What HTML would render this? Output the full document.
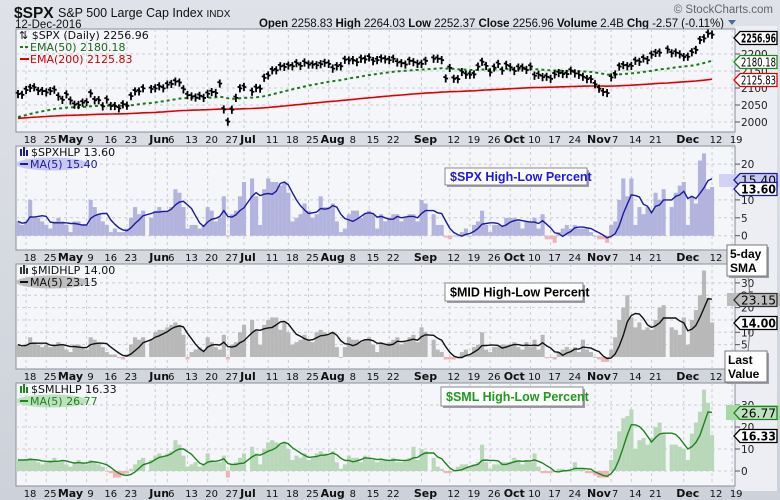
<!DOCTYPE html>
<html><head><meta charset="utf-8"><style>
body{margin:0;background:#d3d6dd;}
svg{display:block;font-family:"DejaVu Sans","Liberation Sans",sans-serif;}
</style></head><body>
<svg id="c" width="780" height="500" viewBox="0 0 780 500">
<defs>
<linearGradient id="bg" x1="0" y1="0" x2="0" y2="1"><stop offset="0" stop-color="#dfe2e8"/><stop offset="1" stop-color="#cdd1d9"/></linearGradient>
</defs>
<rect x="0" y="0" width="780" height="500" fill="url(#bg)"/>
<rect x="735" y="26" width="42" height="465" fill="#eceef3"/>
<text x="14" y="18" font-family="Liberation Sans" font-weight="bold" font-size="15.5" fill="#111">$SPX</text>
<text x="58" y="17" font-family="Liberation Sans" font-size="12.5" fill="#111">S&amp;P 500 Large Cap Index <tspan font-size="10">INDX</tspan></text>
<text x="15" y="28" font-family="Liberation Sans" font-size="11.5" fill="#111">12-Dec-2016</text>
<text x="773" y="13" text-anchor="end" font-family="Liberation Sans" font-size="11.5" fill="#666">© StockCharts.com</text>
<text x="259" y="27" font-family="Liberation Sans" font-size="11.5" fill="#111" textLength="465"><tspan font-weight="bold">Open</tspan> 2258.83 <tspan font-weight="bold">High</tspan> 2264.03 <tspan font-weight="bold">Low</tspan> 2252.37 <tspan font-weight="bold">Close</tspan> 2256.96 <tspan font-weight="bold">Volume</tspan> 2.4B <tspan font-weight="bold">Chg</tspan> -2.57 (-0.11%)</text>
<polygon points="728,20 736,20 732,25" fill="#4a6a9a"/>
<g id="g"></g>
</svg>
<script>
const closes=[2082,2080,2094,2100,2102,2091,2091,2087,2091,2095,2075,2065,
2081,2063,2051,2050,2057,2058,2084,2064,2064,2046,2066,2047,2047,2040,2052,2048,2076,2090,2090,2099,
null,2097,2099,2105,2099,2110,2112,2119,2116,2096,2079,2075,2072,2077,2071,2083,2088,2085,2113,2037,
2001,2036,2071,2099,2103,null,2089,2100,2098,2130,2137,2152,2152,2164,2162,2166,2164,2173,2165,2175,
2169,2169,2167,2170,2174,2171,2157,2164,2164,2183,2181,2182,2176,2186,2184,2190,2179,2182,2187,2184,
2182,2186,2175,2173,2169,2180,2176,2171,2171,2180,null,2186,2186,2182,2128,2159,2127,2126,2147,2139,
2139,2140,2163,2177,2165,2146,2160,2171,2151,2168,2161,2150,2160,2160,2153,2163,2136,2139,2132,2133,
2127,2140,2144,2141,2141,2151,2143,2139,2133,2126,2126,2111,2098,2088,2085,2131,2140,2163,2167,2164,
2165,2180,2177,2187,2182,2198,2203,2204,null,2213,2202,2204,2199,2191,2192,2205,2212,2241,2246,2260,2257];
const spxHL=[4,3,4,10,5,5,4,3,2,4,5,4, 3,1,4,4,3,3,10,8,6,4, 3,1,2,1,1,2,5,8,6,7, null,5, 7,8,7, 7,8,13,12,8,
2,3,3,2,3, 8,7,4,5,11, 0,6,7,11,15, null,16,11,3,13, 16,15,15,14,15, 12,4,5,6,9, 7,5,6,11,8, 8,9,4,1,2,
6,7,7,5,6, 7,6,2,6,4, 5,6,6,4,5, 6,6,4,10,9, null,6,3,3,-0.5, -1,0,0,1,2, 0,3,4,7,3, 1,3,3,3,5,
5,5,4,2,4, 4,5,2,6,-1, -1,-2,1,2,3, 2,3,2,2,2, 1,0,-1,-1,-2, 3,4,10,16,11, 16,3,8,6,8, 7,12,10,13,null,
8,12,14,15,3, 11,9,21,23,13, 13.6];
const midHL=[5,4,5,8,6,5,4,5,4,5,6,5, 3,2,5,5,4,3,8,7,6,4, 2,1,1,0,-1,1,5,8,7,8, null,7, 10,11,11, 12,13,14,13,9,
-1,2,3,4,3, 8,6,4,3,9, -1,5,6,10,13, null,15,11,5,13, 15,16,16,11,14, 10,5,6,7,9, 7,6,10,11,10, 9,10,4,0,4,
8,7,7,6,7, 8,5,2,6,5, 6,7,8,5,6, 8,9,6,12,10, null,7,3,2,-1, -1,-1,0,2,3, 1,4,5,10,3, 2,4,4,5,5,
5,6,4,3,6, 4,7,3,9,-0.5, 0,-1,2,3,4, 3,4,2,7,3, 2,0,-1,-2,-2, 3,8,15,20,25, 16,12,14,11,12, 11,15,20,21,null,
12,11,9,16,5, 15,19,25,35,24, 14];
const smlHL=[5,5,5,6,5,4,3,4,5,6,4,5, 3,2,4,5,4,3,5,4,3,2, 0,-1,-3,-3,-2,-1,1,3,5,6, null,5, 7,8,7, 8,9,14,12,7,
2,3,4,2,3, 8,5,4,4,7, -3,3,4,6,8, null,11,8,3,10, 13,14,13,12,13, 10,5,7,6,8, 5,6,8,9,8, 7,9,4,1,3,
7,6,6,4,7, 6,5,4,5,5, 5,6,4,4,5, 6,11,5,10,9, null,6,2,1,-1, -1,0,2,3,3, 2,3,4,12,4, 1,3,3,4,4,
4,6,5,3,5, 4,8,2,-1,-1, -1,0,1,1,0, 0,4,1,1,-1, -1,-2,-3,-3,-3, 5,10,18,24,25, 28,10,14,15,12, 15,20,22,17,null,
12,12,11,10,5, 17,22,27,37,31, 16.33];
const xLabels=['18','25','May','9','16','23','Jun','6','13','20','27','Jul','11','18','25','Aug','8','15','22','Sep','12','19','26','Oct','10','17','24','Nov','7','14','21','Dec','12','19'];
const xLabelIdx=[2,7,12,17,22,27,34,37,42,47,52,56,62,67,72,77,82,87,92,100,107,112,117,122,127,132,137,143,147,152,157,165,172,177];
const monthLabels=['May','Jun','Jul','Aug','Sep','Oct','Nov','Dec'];
const spxTicks=[2000,2050,2100,2150,2200];
const spxhlTicks=[0,5,10,20];
const midhlTicks=[5,10,15,20,25,30];
const smlhlTicks=[0,10,20,30];

const NS='http://www.w3.org/2000/svg';
const G=document.getElementById('g');
function mk(t,a,p){const e=document.createElementNS(NS,t);for(const k in a)e.setAttribute(k,a[k]);(p||G).appendChild(e);return e;}
const X0=18,DX=4.035,PL=16,PR=735;
const xOf=i=>X0+i*DX;
const panels=[
 {top:29,bot:132,y:v=>122-(v-2000)*0.34,ticks:spxTicks,name:'price'},
 {top:146,bot:250,y:v=>235.7-v*3.58,ticks:spxhlTicks,name:'spx-hl'},
 {top:264,bot:369,y:v=>357-v*2.47,ticks:midhlTicks,name:'mid-hl'},
 {top:383,bot:486,y:v=>471-v*2.2,ticks:smlhlTicks,name:'sml-hl'}];
function ma5(a){const o=[];let buf=[];for(let i=0;i<a.length;i++){if(a[i]==null){o.push(null);continue;}buf.push(a[i]);if(buf.length>5)buf.shift();o.push(buf.reduce((s,v)=>s+v,0)/buf.length);}return o;}
function ema(a,n,seed){const k=2/(n+1);let e=seed;return a.map(v=>{if(v==null)return null;e=e+(v-e)*k;return e;});}
function line(vals,yf,color,w,dash,name){let d='';vals.forEach((v,i)=>{if(v==null)return;d+=(d?'L':'M')+xOf(i).toFixed(1)+','+yf(v).toFixed(1);});
 const p=mk('path',{d:d,fill:'none',stroke:color,'stroke-width':w});if(dash)p.setAttribute('stroke-dasharray',dash);
 
 }
function tag(y,txt,border,fill,bold,name){
 const g=mk('g',{});
 
 
 mk('polygon',{points:`734,${y} 740,${y-6.5} 777,${y-6.5} 777,${y+6.5} 740,${y+6.5}`,fill:fill,stroke:border,'stroke-width':1.3},g);
 mk('text',{x:741,y:y+4.5,'font-size':12,'font-weight':bold?'bold':'normal',fill:'#000',textLength:35,lengthAdjust:'spacingAndGlyphs'},g).textContent=txt;}

panels.forEach((P,pi)=>{
 const r=mk('rect',{x:PL,y:P.top,width:PR-PL,height:P.bot-P.top,fill:'#f5f6fa',stroke:'#8a8f9a','stroke-width':1});
 
 
 xLabelIdx.forEach((ix,k)=>{const x=xOf(ix);if(x<PR-2){const l=mk('line',{x1:x,x2:x,y1:P.top,y2:P.bot,stroke:'#c9ccd3','stroke-dasharray':'3,3'});
  
  }
  const t=mk('text',{x:x+4,y:P.bot+11,'text-anchor':'middle','font-size':monthLabels.includes(xLabels[k])?11:10,'font-weight':monthLabels.includes(xLabels[k])?'bold':'normal',fill:'#111'});
  t.textContent=xLabels[k];
  
  });
 P.ticks.forEach(v=>{const y=P.y(v);
  const l=mk('line',{x1:PL,x2:PR,y1:y,y2:y,stroke:'#c9ccd3','stroke-dasharray':'3,3'});
  
  
  mk('line',{x1:PR,x2:PR+5,y1:y,y2:y,stroke:'#555'});
  const t=mk('text',{x:PR+6,y:y+4,'font-size':10.5,fill:'#222'});t.textContent=v;
  
  });
});

const P0=panels[0];
line(ema(closes,200,2010),P0.y,'#e00000',1.6,null,'ema200-line');
line(ema(closes,50,2012),P0.y,'#1a7a1a',2,'3,3','ema50-line');
closes.forEach((c,i)=>{if(c==null)return;const x=xOf(i);
 const b=mk('path',{d:`M${x},${P0.y(c+12)}V${P0.y(c-12)}M${x},${P0.y(c)}H${x+2.4}M${x-2.4},${P0.y(c+4)}H${x}`,stroke:'#000','stroke-width':1.8,fill:'none'});
 
 });

const hlCfg=[[spxHL,'#b3b4de','#1b1b9c','spx'],[midHL,'#b8b8b8','#111','mid'],[smlHL,'#b9d7b9','#1e841e','sml']];
hlCfg.forEach((c,k)=>{const P=panels[k+1],a=c[0];const y0=P.y(0);
 a.forEach((v,i)=>{if(v==null)return;const y=P.y(v);
  const r=mk('rect',{x:xOf(i)-2,y:Math.min(y,y0),width:4.1,height:Math.max(Math.abs(y-y0),0.8),fill:v<0?'#efb3b5':c[1]});
  
  });
 line(ma5(a),P.y,c[2],1.4,null,c[3]+'-ma5-line');});
</script>
<script>
const S=document.getElementById('c');
function add(html){S.insertAdjacentHTML('beforeend',html);}
add(`<g font-size="11">
<text x="19" y="39" fill="#111">⇅ $SPX (Daily) 2256.96</text>
<line x1="20" y1="47" x2="29" y2="47" stroke="#1a7a1a" stroke-width="2" stroke-dasharray="3,2"/><text x="30" y="51" fill="#1a6a1a">EMA(50) 2180.18</text>
<line x1="20" y1="59" x2="29" y2="59" stroke="#e00000" stroke-width="2"/><text x="30" y="63" fill="#d00000">EMA(200) 2125.83</text></g>`);
const legs=[[146,'$SPXHLP 13.60','MA(5) 15.40','#c8c9f2','#1b1b9c','#1b1b9c','spx'],[264,'$MIDHLP 14.00','MA(5) 23.15','#bdbdbd','#111','#333','mid'],[383,'$SMLHLP 16.33','MA(5) 26.77','#bfe0bf','#1e841e','#1e841e','sml']];
legs.forEach(l=>{const t=l[0];add(`<g font-size="11">
<rect x="20" y="${t+3}" width="2" height="7" fill="${l[5]}"/><rect x="23" y="${t+1}" width="2" height="9" fill="${l[5]}"/><rect x="26" y="${t+4}" width="2" height="6" fill="${l[5]}"/>
<text x="31" y="${t+10}" fill="#111">${l[1]}</text>
<ellipse cx="52" cy="${t+18}" rx="36" ry="6.5" fill="${l[3]}"/>
<line x1="20" y1="${t+18}" x2="28" y2="${t+18}" stroke="${l[4]}" stroke-width="2"/><text x="30" y="${t+22}" fill="${l[4]}">${l[2]}</text></g>`);});
const boxes=[[445,168,142,17,'$SPX High-Low Percent','#1a1ae0'],[445,283,138,18,'$MID High-Low Percent','#000'],[441,387,142,19,'$SML High-Low Percent','#1c9a1c']];
boxes.forEach((b,k)=>add(`<g><rect x="${b[0]+2}" y="${b[1]+2}" width="${b[2]}" height="${b[3]}" fill="#9a9ea8"/><rect x="${b[0]}" y="${b[1]}" width="${b[2]}" height="${b[3]}" fill="#fff" stroke="#888"/><text x="${b[0]+5}" y="${b[1]+b[3]/2+4.5}" font-family="Liberation Sans" font-weight="bold" font-size="12.5" fill="${b[5]}">${b[4]}</text></g>`));
</script>
<script>
tag(38,'2256.96','#000','#fff',true,'last-price-tag');
tag(62,'2180.18','#1a8a1a','#fff',false,'ema50-tag');
tag(80,'2125.83','#e00000','#fff',false,'ema200-tag');
mk('rect',{x:719,y:174,width:61,height:13,fill:'#c8c9f2',opacity:0.8});
tag(180,'15.40','#1b1b9c','#c8c9f2',false,'spx-ma-tag');
tag(189,'13.60','#1b1b9c','#fff',true,'spx-last-tag');
mk('rect',{x:727,y:293,width:53,height:13,fill:'#bdbdbd'});
tag(300,'23.15','#333','#bdbdbd',false,'mid-ma-tag');
tag(323,'14.00','#000','#fff',true,'mid-last-tag');
mk('rect',{x:726,y:405,width:54,height:15,fill:'#a8d8a8'});
tag(413,'26.77','#1e841e','#bfe0bf',false,'sml-ma-tag');
tag(436,'16.33','#000','#fff',true,'sml-last-tag');
S.insertAdjacentHTML('beforeend',`<g><line x1="748" y1="276" x2="750" y2="296" stroke="#777"/><rect x="729" y="247" width="40" height="31" fill="#9a9ea8"/><rect x="727" y="245" width="40" height="31" fill="#fff" stroke="#777"/><text x="730" y="258" font-family="Liberation Sans" font-weight="bold" font-size="12">5-day</text><text x="730" y="272" font-family="Liberation Sans" font-weight="bold" font-size="12">SMA</text></g>
<g><line x1="748" y1="351" x2="750" y2="330" stroke="#777"/><rect x="727" y="353" width="42" height="31" fill="#9a9ea8"/><rect x="725" y="351" width="42" height="31" fill="#fff" stroke="#777"/><text x="728" y="364" font-family="Liberation Sans" font-weight="bold" font-size="12">Last</text><text x="728" y="378" font-family="Liberation Sans" font-weight="bold" font-size="12">Value</text></g>`);
</script>
</body></html>
